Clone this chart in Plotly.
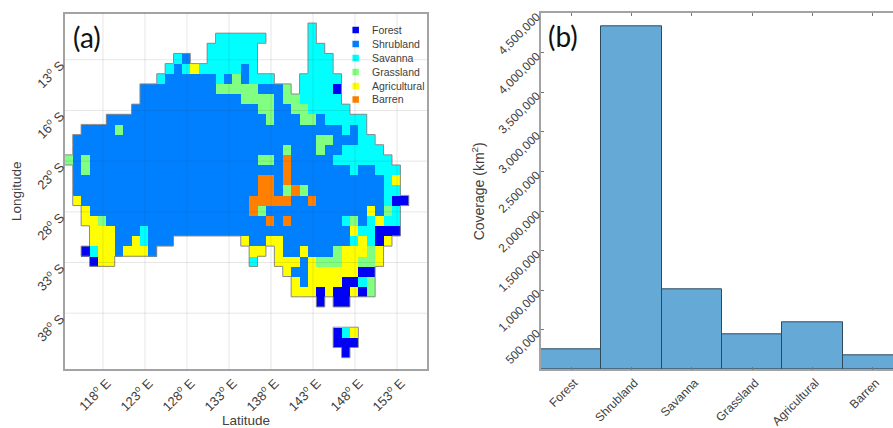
import plotly.graph_objects as go

W, H = 893, 428

# ---------- panel (a) data: land cover class runs per latitude row ----------
CLASSES = ["Forest", "Shrubland", "Savanna", "Grassland", "Agricultural", "Barren"]
CODES = ["F", "B", "S", "G", "Y", "O"]
COLORS = ["#0000F5", "#0080FF", "#00FFFF", "#80FF80", "#FFFF00", "#FF8000"]
LON_TICKS = [118, 123, 128, 133, 138, 143, 148, 153]
LAT_TICKS = [13, 18, 23, 28, 33, 38]
LAT_LABELS = ["13", "16", "23", "28", "33", "38"]

ROWS = {
    10: "143 S",
    11: "132-137 S, 143 S",
    12: "131-136 S, 143-144 S",
    13: "127 S, 128 B, 131-136 S, 143-145 S",
    14: "126 S, 127 B, 128 S, 129 Y, 130-134 S, 135 B, 136 S, 143-145 S",
    15: "125 S, 126-131 B, 132 S, 133 B, 134 G, 135 B, 136-138 S, 142-146 S",
    16: "123-131 B, 132-136 G, 137-139 B, 140 G, 142-145 S, 146 F",
    17: "123-134 B, 135-138 G, 139 B, 140-141 G, 142-146 S",
    18: "122-136 B, 137-138 G, 139-140 B, 141-142 G, 143-147 S",
    19: "119-137 B, 138 G, 139-141 B, 142-143 G, 144 B, 145-149 S",
    20: "116-119 B, 120 G, 121-146 B, 147 S, 148 B, 149 S",
    21: "115-143 B, 144-145 G, 146-148 B, 149-150 S",
    22: "115-139 B, 140 G, 141-143 B, 144 G, 145-146 B, 147-151 S",
    23: "114 G, 115 B, 116 G, 117-136 B, 137-138 G, 139 B, 140 O, 141-145 B, 146-152 S",
    24: "115 B, 116 G, 117-139 B, 140 O, 141-147 B, 148 S, 149-150 B, 151-153 S",
    25: "115-136 B, 137-138 O, 139 B, 140 O, 141-151 B, 152 S, 153 Y",
    26: "115-136 B, 137-138 O, 139 B, 140 G, 141 O, 142 G, 143-151 B, 152-153 S",
    27: "115 Y, 116-135 B, 136-140 O, 141-142 B, 143 O, 144-151 B, 152 S, 153-154 F",
    28: "116 Y, 117-135 B, 136 O, 137 G, 138-149 B, 150 Y, 151 B, 152 G, 153 S",
    29: "116-117 Y, 118 G, 119-137 B, 138 O, 139 B, 140 O, 141-146 B, 147 S, 148 G, 149 B, 150 S, 151 Y, 152-153 S",
    30: "117-119 Y, 120-122 B, 123 S, 124-147 B, 148 Y, 149-150 S, 151-153 F",
    31: "117-119 Y, 120-121 B, 122 Y, 123 S, 124-126 B, 135 Y, 136-137 B, 138-139 Y, 140-147 B, 148 S, 149 Y, 150 S, 151 F, 152 Y",
    32: "116 F, 117 S, 118-119 Y, 120 B, 121-123 Y, 124 B, 136-137 Y, 139 Y, 140-141 B, 142 Y, 143-145 B, 146 G, 147-149 Y, 150 G, 151 Y",
    33: "117 F, 118-119 Y, 136 S, 139-141 Y, 142 B, 143 Y, 144-146 G, 147-148 Y, 149-150 G, 151 Y",
    34: "140 Y, 141-142 B, 143-148 Y, 149-150 F",
    35: "141 Y, 142 B, 143-146 Y, 147-148 F, 149 S, 150 G",
    36: "141-143 Y, 144 F, 145 Y, 146-147 F, 148 Y, 149 F, 150 G",
    37: "144 F, 146-147 F",
    40: "146 F, 147 S, 148 Y",
    41: "146-148 F",
    42: "147 F",
}

# ---------- panel (b) data ----------
COVER_NAMES = ["Forest", "Shrubland", "Savanna", "Grassland", "Agricultural", "Barren"]
COVER_VALUES = [252000, 4340000, 1015000, 442000, 598000, 172000]
COVER_TICKS = [500000, 1000000, 1500000, 2000000, 2500000, 3000000, 3500000, 4000000, 4500000]

TEXT = "#404040"
FRAME = "#a3a3a3"
BAR = "#65A9D7"
EDGE = "#2f4a5e"
X_SHIFT, Y_SHIFT = -0.1, -0.12   # cell centres relative to the graticule

# parse
cells = {}
for lat, spec in ROWS.items():
    for part in spec.split(", "):
        rng, code = part.split(" ")
        a, _, b = rng.partition("-")
        for lon in range(int(a), int(b or a) + 1):
            cells[(lon, lat)] = CODES.index(code)

lons = list(range(114, 156))
lats = list(range(10, 43))
z = [[cells.get((lon, lat)) for lon in lons] for lat in lats]

scale = []
n = len(COLORS)
for i, c in enumerate(COLORS):
    scale += [[i / n, c], [(i + 1) / n, c]]

# outline from the cell map
ox, oy = [], []
for (lon, lat) in cells:
    l, r = lon - 0.5 + X_SHIFT, lon + 0.5 + X_SHIFT
    t, b = lat - 0.5 + Y_SHIFT, lat + 0.5 + Y_SHIFT
    if (lon - 1, lat) not in cells:
        ox += [l, l, None]; oy += [t, b, None]
    if (lon + 1, lat) not in cells:
        ox += [r, r, None]; oy += [t, b, None]
    if (lon, lat - 1) not in cells:
        ox += [l, r, None]; oy += [t, t, None]
    if (lon, lat + 1) not in cells:
        ox += [l, r, None]; oy += [b, b, None]

fig = go.Figure()
fig.add_trace(go.Heatmap(
    x=[v + X_SHIFT for v in lons], y=[v + Y_SHIFT for v in lats], z=z,
    zmin=0, zmax=n, colorscale=scale, showscale=False, hoverongaps=False,
    xaxis="x", yaxis="y"))
fig.add_trace(go.Scatter(x=ox, y=oy, mode="lines", showlegend=False, hoverinfo="skip",
                         line=dict(color="#8a8a8a", width=1), xaxis="x", yaxis="y"))

# legend keys inside panel (a), placed in data units
KEY_LON, TEXT_LON = 148.08, 149.8
KEY_LATS = [10.07, 11.45, 12.82, 14.2, 15.58, 16.92]
fig.add_trace(go.Scatter(x=[KEY_LON] * n, y=KEY_LATS, mode="markers", showlegend=False,
                         marker=dict(symbol="square", size=6.5, color=COLORS),
                         xaxis="x", yaxis="y"))

fig.add_trace(go.Bar(
    x=list(range(1, 7)), y=COVER_VALUES, width=1.0,
    marker=dict(color=BAR, line=dict(color=EDGE, width=1)),
    showlegend=False, xaxis="x2", yaxis="y2"))

def xa(px0, px1):
    return [px0 / W, px1 / W]

def ya(top, bottom):
    return [1 - bottom / H, 1 - top / H]

annos = [dict(x=TEXT_LON, y=lat, xref="x", yref="y", text=name, showarrow=False,
              xanchor="left", yanchor="middle",
              font=dict(family="Liberation Sans", size=10.5, color=TEXT))
         for name, lat in zip(CLASSES, KEY_LATS)]
annos += [
    dict(x=71 / W, y=1 - 37 / H, xref="paper", yref="paper", text="(a)", showarrow=False,
         xanchor="left", yanchor="middle", font=dict(family="Lato", size=28, color="#111111")),
    dict(x=546 / W, y=1 - 36 / H, xref="paper", yref="paper", text="(b)", showarrow=False,
         xanchor="left", yanchor="middle", font=dict(family="Lato", size=28, color="#111111")),
]

shapes = []
for v in LON_TICKS:
    shapes.append(dict(type="line", xref="x", yref="paper", x0=v, x1=v,
                       y0=1 - 369 / H, y1=1 - 13.5 / H, layer="above",
                       line=dict(color="rgba(60,60,60,0.12)", width=1)))
for v in LAT_TICKS:
    shapes.append(dict(type="line", xref="paper", yref="y", y0=v, y1=v,
                       x0=65 / W, x1=427 / W, layer="above",
                       line=dict(color="rgba(60,60,60,0.12)", width=1)))

map_tick_font = dict(family="Liberation Sans", size=13, color=TEXT)
tick_font = dict(family="Liberation Sans", size=12, color=TEXT)
title_font = dict(family="Liberation Sans", size=13.5, color=TEXT)

fig.update_layout(
    width=W, height=H, margin=dict(l=0, r=0, t=0, b=0, autoexpand=False),
    paper_bgcolor="white", plot_bgcolor="white", showlegend=False,
    bargap=0, annotations=annos, shapes=shapes,
    xaxis=dict(domain=xa(65, 427), range=[113.48, 156.57], tickvals=LON_TICKS,
               ticktext=[f"{v}<sup>o</sup> E" for v in LON_TICKS], tickangle=-45,
               tickfont=map_tick_font, showgrid=False, zeroline=False, ticks="",
               showline=True, linecolor=FRAME, linewidth=1.5, mirror=True,
               automargin=False, ticklabelshift=4,
               title=dict(text="Latitude", font=title_font, standoff=8)),
    yaxis=dict(domain=ya(13.5, 369), range=[43.5, 8.44], tickvals=LAT_TICKS,
               ticktext=[f"{v}<sup>o</sup> S" for v in LAT_LABELS], tickangle=-45,
               tickfont=map_tick_font, showgrid=False, zeroline=False, ticks="",
               showline=True, linecolor=FRAME, linewidth=1.5, mirror=True,
               automargin=False, ticklabelshift=-4,
               title=dict(text="Longitude", font=title_font, standoff=8)),
    xaxis2=dict(domain=xa(541, 893), range=[0.5, 6.334], tickvals=list(range(1, 7)),
                ticktext=COVER_NAMES, tickangle=-45, tickfont=tick_font,
                showgrid=False, zeroline=False, ticks="inside", ticklen=3,
                tickcolor="#777777", showline=True, linecolor=FRAME, linewidth=1.5,
                mirror="ticks", anchor="y2", automargin=False, ticklabelshift=3),
    yaxis2=dict(domain=ya(13.3, 369.3), range=[0, 4500000], tickvals=COVER_TICKS,
                ticktext=[f"{v:,}" for v in COVER_TICKS], tickangle=-45, tickfont=tick_font,
                showgrid=False, zeroline=False, ticks="inside", ticklen=3,
                tickcolor="#777777", showline=True, linecolor=FRAME, linewidth=1.5,
                anchor="x2", automargin=False, ticklabelshift=2,
                title=dict(text="Coverage (km<sup>2</sup>)", font=dict(family="Liberation Sans", size=14, color=TEXT), standoff=8)),
)

fig.write_html("out.html", config={"displayModeBar": False},
               post_script="document.body.style.margin='0';")
